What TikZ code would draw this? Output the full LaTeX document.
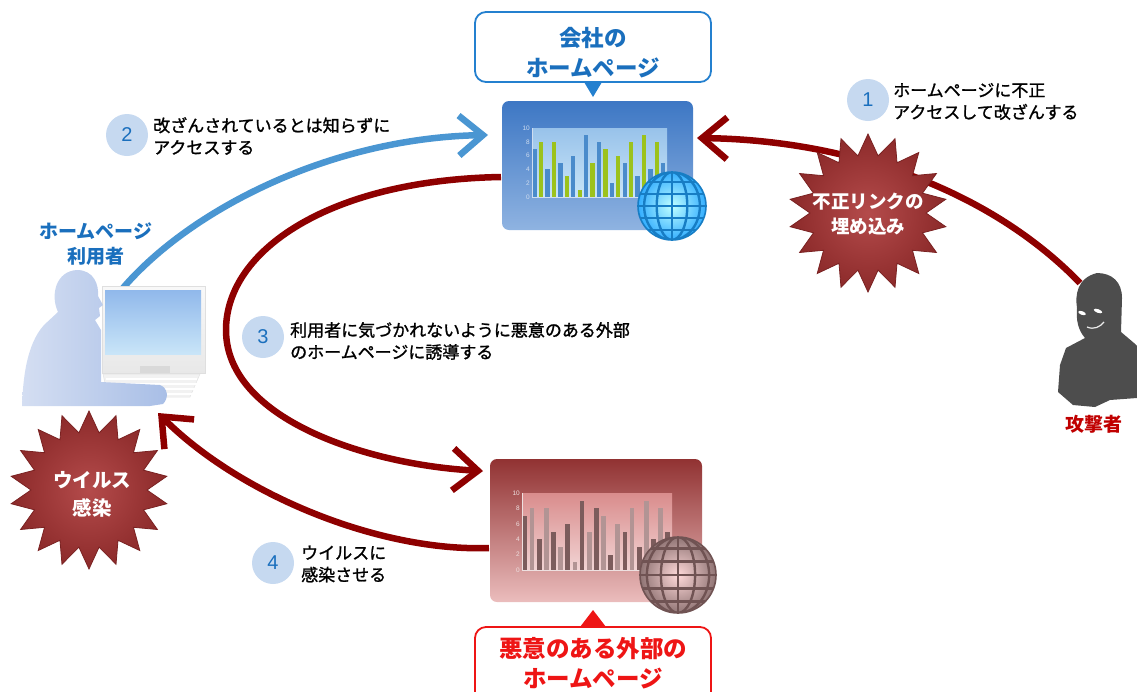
\documentclass[tikz,border=0pt]{standalone}
\usepackage{fontspec}
\newfontfamily\jp{Noto Sans CJK JP}
\newfontfamily\jpnote{Noto Sans CJK JP}[FakeBold=1.3]
\newfontfamily\numfont{Liberation Sans}
\usetikzlibrary{arrows.meta}

\definecolor{corpblue}{HTML}{1A6FBD}
\definecolor{calloutblue}{HTML}{2480CF}
\definecolor{flowred}{HTML}{8E0000}
\definecolor{flowblue}{HTML}{4A96D2}
\definecolor{badgefill}{HTML}{C6D9F0}
\definecolor{burstin}{HTML}{B44B4B}
\definecolor{burstout}{HTML}{8C2A2A}
\definecolor{burstedge}{HTML}{7A2222}
\definecolor{evilred}{HTML}{EE1515}
\definecolor{attackred}{HTML}{C00000}
\definecolor{corptop}{HTML}{3D77C4}
\definecolor{corpbot}{HTML}{8FB3E1}
\definecolor{eviltop}{HTML}{913232}
\definecolor{evilbot}{HTML}{EBBDBD}
\definecolor{chartbluetop}{HTML}{98C2EA}
\definecolor{chartbluebot}{HTML}{C9E5F8}
\definecolor{barblue}{HTML}{4A8BCB}
\definecolor{bargreen}{HTML}{9CC21C}
\definecolor{chartredtop}{HTML}{D98C8C}
\definecolor{chartredbot}{HTML}{F2D4D4}
\definecolor{bardark}{HTML}{7C5C5C}
\definecolor{barlight}{HTML}{B29494}
\definecolor{shadow}{HTML}{4D4D4D}
\definecolor{userlight}{HTML}{D4DEF2}
\definecolor{userdark}{HTML}{A8BEE6}

% bar chart: x0, bottom y, width, height, colour A, colour B, axis label colour
\newcommand{\barchart}[7]{%
  \foreach \v [count=\k from 0] in {7,8,4,8,5,3,6,1,9,5,8,7,2,6,5,8,3,9,4,8,5} {%
    \pgfmathsetmacro\bx{#1+0.6+\k*#3/21}%
    \pgfmathsetmacro\bw{0.66*#3/21}%
    \pgfmathsetmacro\bh{\v*#4/10}%
    \ifodd\k\def\bc{#6}\else\def\bc{#5}\fi
    \fill[\bc] (\bx,#2) rectangle ({\bx+\bw},{#2-\bh});
  }%
  \draw[white!80!#7, line width=0.8pt] (#1,{#2-#4}) -- (#1,#2) -- ({#1+#3},#2);
  \foreach \t in {0,2,...,10}
    \node[font=\numfont\fontsize{6.5}{6.5}\selectfont, text=#7, anchor=east, inner sep=1pt]
      at ({#1-1},{#2-\t*#4/10}) {\t};
}

% globe: centre x, centre y, radius, inner colour, outer colour, grid colour
\newcommand{\drawglobe}[6]{%
  \shade[inner color=#4, outer color=#5] (#1,#2) circle (#3);
  \begin{scope}
    \clip (#1,#2) circle (#3);
    \draw[#6, line width=2.4pt] (#1,{#2-#3}) -- (#1,{#2+#3});
    \foreach \f in {0.45,0.82}
      \draw[#6, line width=2.4pt] (#1,#2) ellipse ({\f*#3} and #3);
    \foreach \f in {-0.7,-0.36,0,0.36,0.7}
      \draw[#6, line width=2.4pt] ({#1-#3},{#2+\f*#3}) -- ({#1+#3},{#2+\f*#3});
  \end{scope}
  \draw[#6, line width=1.6pt] (#1,#2) circle (#3);
}

% starburst outline: centre x, centre y, outer radius, inner radius
\newcommand{\drawburst}[4]{%
  \shade[inner color=burstin, outer color=burstout, draw=burstedge, line width=0.8pt]
    plot[samples at={0,...,35}, variable=\i]
      ({#1+(mod(\i,2)==0 ? #3 : #4)*cos(\i*10+90)},
       {#2+(mod(\i,2)==0 ? #3 : #4)*sin(\i*10+90)}) -- cycle;
}

\begin{document}
\begin{tikzpicture}[x=1pt, y=-1pt,
  redflow/.style={draw=flowred, line width=6.5pt,
    -{Straight Barb[length=25pt, width=42pt]}},
  blueflow/.style={draw=flowblue, line width=6.5pt,
    -{Straight Barb[length=24pt, width=40pt]}},
  screen/.style={rounded corners=7pt, minimum width=#1, inner sep=0pt},
  callout/.style={draw=#1, line width=1.8pt, fill=white, rounded corners=11pt},
  badge/.style={circle, fill=badgefill, minimum size=42pt, inner sep=0pt,
    text=corpblue, font=\numfont\fontsize{20}{20}\selectfont},
  note/.style={anchor=west, align=left, inner sep=0pt,
    font=\jpnote\fontsize{17}{22}\selectfont},
  bursttext/.style={align=center, text=white, inner sep=0pt,
    font=\jp\bfseries\fontsize{18.5}{25}\selectfont},
]
\useasboundingbox (0,0) rectangle (1137,691);

% ---- anchor points of the flows ----
\coordinate (atk) at (1080,283);
\coordinate (corpR) at (697,138);
\coordinate (corpL) at (501,177);
\coordinate (userTop) at (123,288);
\coordinate (corpIn) at (488,135);
\coordinate (evilIn) at (483,471);
\coordinate (evilL) at (489,548);
\coordinate (userIn) at (158,413);

% ---- flows ----
\draw[redflow] (corpL) .. controls (330,180) and (226,250) .. (226,330)
  .. controls (226,420) and (370,465) .. (evilIn);
\draw[redflow] (evilL) .. controls (380,552) and (240,495) .. (userIn);
\draw[blueflow] (userTop) .. controls (190,210) and (330,138) .. (corpIn);
\draw[redflow] (atk) .. controls (990,190) and (850,140) .. (corpR);

% ---- company homepage ----
\node[screen=191pt, minimum height=129pt, top color=corptop, bottom color=corpbot]
  (corp) at (597.5,165.5) {};
\shade[top color=chartbluetop, bottom color=chartbluebot] (532,128) rectangle (667,197);
\barchart{532}{197}{135}{69}{barblue}{bargreen}{white!75!corptop}
\drawglobe{672}{206}{34}{cyan!25}{cyan!60!blue!80}{corpblue!90!cyan}

% ---- malicious homepage ----
\node[screen=212pt, minimum height=143pt, top color=eviltop, bottom color=evilbot]
  (evil) at (596,530.5) {};
\shade[top color=chartredtop, bottom color=chartredbot] (522,493) rectangle (672,570);
\barchart{522}{570}{150}{77}{bardark}{barlight}{white!85!eviltop}
\drawglobe{678}{575}{38}{red!15!white}{bardark!85!white}{bardark!90!black}

% ---- callouts ----
\draw[callout=calloutblue] (475,12) rectangle (711,82);
\fill[calloutblue] (584,82) -- (602,82) -- (593,97) -- cycle;
\node[align=center, text=corpblue, font=\jp\bfseries\fontsize{22.5}{30}\selectfont]
  (corptitle) at (593,53) {会社の\\ホームページ};

\draw[callout=evilred] (475,627) rectangle (711,720);
\fill[evilred] (580,627) -- (606,627) -- (593,610) -- cycle;
\node[align=center, text=evilred, font=\jp\bfseries\fontsize{23.5}{30}\selectfont]
  (eviltitle) at (593,663) {悪意のある外部の\\ホームページ};

% ---- user at the computer ----
\shade[top color=white!95!gray, bottom color=white!82!gray, draw=white!75!gray, line width=0.6pt]
  (102,286) rectangle (205,373);
\shade[top color=chartbluetop!95!blue, bottom color=chartbluebot] (105,290) rectangle (201,354);
\fill[white!70!gray] (140,366) rectangle (170,373);
\fill[white!90!gray, draw=white!78!gray, line width=0.5pt]
  (103,374) -- (200,374) -- (190,397) -- (108,397) -- cycle;
\foreach \r in {379,384,389,394}
  \draw[white, line width=1.4pt] (106,\r) -- (197,\r);
\shade[left color=userlight, right color=userdark]
  (58,312) .. controls (50,295) and (56,271) .. (77,270)
  .. controls (94,270) and (99,285) .. (98,296) -- (103,305) -- (99,308)
  -- (100,316) -- (95,320) -- (101,330) -- (101,382) -- (160,385)
  .. controls (168,388) and (169,398) .. (163,404) -- (150,406) -- (22,406)
  .. controls (23,380) and (26,345) .. (44,325) -- cycle;
\node[align=center, text=corpblue, font=\jp\bfseries\fontsize{19}{25}\selectfont]
  (userlabel) at (96,244) {ホームページ\\利用者};

% ---- attacker ----
\fill[shadow] (1097,273) .. controls (1112,273) and (1122,282) .. (1122,298)
  -- (1121,332) -- (1134,343) -- (1137,346) -- (1137,398) -- (1110,400)
  -- (1095,407) -- (1073,405) -- (1058,392) -- (1060,365) -- (1066,348)
  -- (1085,338) .. controls (1078,330) and (1076,320) .. (1077,308)
  .. controls (1075,295) and (1077,278) .. (1097,273) -- cycle;
\fill[white, rotate around={-20:(1082,313)}] (1082,313) ellipse (4 and 1.8);
\fill[white, rotate around={-20:(1098,311)}] (1098,311) ellipse (4.5 and 1.8);
\draw[white!85!gray, line width=1.2pt] (1087,327) .. controls (1094,330) and (1100,327) .. (1104,322);
\node[text=attackred, font=\jp\bfseries\fontsize{19}{19}\selectfont]
  (attacker) at (1094,424) {攻撃者};

% ---- starbursts ----
\drawburst{868}{213}{79}{58}
\node[bursttext] (inject) at (868,214) {不正リンクの\\埋め込み};
\drawburst{89}{490}{79}{58}
\node[bursttext, font=\jp\bfseries\fontsize{19.5}{28}\selectfont]
  (infect) at (92,494) {ウイルス\\感染};

% ---- numbered steps ----
\node[badge] (s1) at (868,100) {1};
\node[note] (t1) at (893,101.5) {ホームページに不正\\アクセスして改ざんする};
\node[badge] (s2) at (127,135) {2};
\node[note] (t2) at (153,136) {改ざんされているとは知らずに\\アクセスする};
\node[badge] (s3) at (263,337) {3};
\node[note] (t3) at (290,341) {利用者に気づかれないように悪意のある外部\\のホームページに誘導する};
\node[badge] (s4) at (273,563) {4};
\node[note] (t4) at (301,564) {ウイルスに\\感染させる};
\end{tikzpicture}
\end{document}
